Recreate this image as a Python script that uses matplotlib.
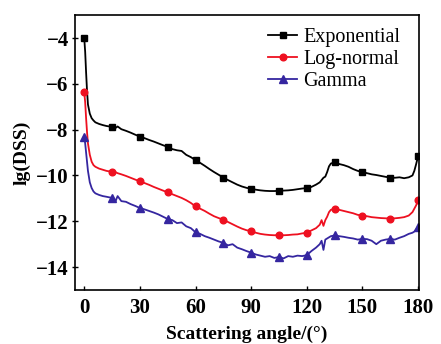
import numpy as np
import matplotlib
matplotlib.use("Agg")
import matplotlib.pyplot as plt

plt.rcParams['font.family'] = ['Liberation Serif', 'DejaVu Serif']

angle = [0, 0.5, 1, 1.5, 2, 3, 4, 5, 6, 8, 10, 12, 15, 17, 18, 20, 22.5, 25, 27.5,
         30, 32.5, 35, 37.5, 40, 42.5, 45, 47.5, 50, 52.5, 55, 57.5, 60, 62.5, 65,
         67.5, 70, 72.5, 75, 77.5, 80, 82.5, 85, 87.5, 90, 92.5, 95, 97.5, 100,
         102.5, 105, 107.5, 110, 112.5, 115, 117.5, 120, 122.5, 125, 127, 128, 129,
         130, 131, 132, 133, 135, 137.5, 140, 142.5, 145, 147.5, 150, 152.5, 155,
         157.5, 160, 162.5, 165, 167.5, 170, 172.5, 175, 177, 178, 179, 180]

exponential = [-4.0, -4.6, -5.5, -6.3, -6.9, -7.3, -7.5, -7.6, -7.68, -7.75, -7.8, -7.84,
               -7.88, -7.92, -7.86, -7.98, -8.05, -8.13, -8.22, -8.3, -8.37, -8.45,
               -8.52, -8.6, -8.68, -8.75, -8.85, -8.9, -8.93, -9.1, -9.2, -9.33,
               -9.45, -9.58, -9.72, -9.85, -9.97, -10.09, -10.2, -10.3, -10.4, -10.48,
               -10.54, -10.58, -10.62, -10.65, -10.67, -10.68, -10.68, -10.67, -10.66,
               -10.65, -10.63, -10.6, -10.57, -10.55, -10.5, -10.4, -10.3, -10.2,
               -10.1, -10.05, -9.85, -9.6, -9.48, -9.42, -9.5, -9.55, -9.62, -9.72,
               -9.8, -9.85, -9.9, -9.95, -9.98, -10.02, -10.06, -10.09, -10.1, -10.08,
               -10.12, -10.08, -10.0, -9.8, -9.5, -9.17]

lognormal = [-6.37, -6.8, -7.5, -8.1, -8.6, -9.1, -9.4, -9.55, -9.62, -9.7, -9.75, -9.8,
             -9.84, -9.86, -9.9, -9.95, -10.02, -10.1, -10.18, -10.26, -10.33, -10.41,
             -10.5, -10.58, -10.66, -10.74, -10.82, -10.9, -10.98, -11.08, -11.2,
             -11.35, -11.45, -11.55, -11.67, -11.78, -11.86, -11.93, -12.03, -12.13,
             -12.23, -12.32, -12.39, -12.43, -12.5, -12.55, -12.58, -12.6, -12.61,
             -12.6, -12.61, -12.6, -12.58, -12.57, -12.53, -12.5, -12.4, -12.3,
             -12.15, -11.95, -12.2, -11.95, -11.8, -11.6, -11.5, -11.45, -11.5, -11.55,
             -11.6, -11.65, -11.72, -11.75, -11.78, -11.82, -11.84, -11.86, -11.87,
             -11.88, -11.87, -11.85, -11.82, -11.75, -11.6, -11.45, -11.3, -11.09]

gamma = [-8.3, -8.6, -9.0, -9.4, -9.8, -10.3, -10.55, -10.7, -10.78, -10.85, -10.9,
         -10.93, -10.98, -11.1, -10.9, -11.12, -11.15, -11.25, -11.33, -11.42, -11.48,
         -11.55, -11.62, -11.7, -11.8, -11.9, -11.95, -12.08, -12.05, -12.22, -12.3,
         -12.48, -12.55, -12.65, -12.72, -12.8, -12.88, -12.94, -13.05, -13.0, -13.15,
         -13.22, -13.3, -13.37, -13.45, -13.5, -13.55, -13.52, -13.6, -13.56, -13.62,
         -13.52, -13.55, -13.5, -13.52, -13.48, -13.3, -13.15, -13.0, -12.85, -13.25,
         -12.8, -12.75, -12.7, -12.65, -12.62, -12.65, -12.68, -12.72, -12.75, -12.8,
         -12.77, -12.78, -12.85, -13.0, -12.85, -12.8, -12.77, -12.8, -12.72, -12.65,
         -12.55, -12.5, -12.45, -12.35, -12.25]

marker_angles = [0, 15, 30, 45, 60, 75, 90, 105, 120, 135, 150, 165, 180]
series_names = ["Exponential", "Log-normal", "Gamma"]
xticks = [0, 30, 60, 90, 120, 150, 180]
yticks = [-4, -6, -8, -10, -12, -14]

x = np.array(angle)
mark_idx = [int(np.where(x == a)[0][0]) for a in marker_angles]

fig = plt.figure(figsize=(4.41, 3.44), dpi=100)
ax = fig.add_axes([0.170, 0.157, 0.780, 0.799])

styles = [dict(color='black', marker='s', ms=4.8),
          dict(color='#ee1020', marker='o', ms=4.8),
          dict(color='#3526a0', marker='^', ms=5.8)]
for ys, name, st in zip([exponential, lognormal, gamma], series_names, styles):
    ax.plot(x, ys, color=st['color'], marker=st['marker'], markersize=st['ms'],
            markevery=mark_idx, lw=1.3, label=name)

ax.set_xlim(-5, 180.5)
ax.set_ylim(-15, -3)
ax.set_xticks(xticks)
ax.set_yticks(yticks)
ax.set_yticklabels(["\u2212%d" % abs(v) for v in yticks])
ax.tick_params(axis='x', direction='in', length=3, width=1, labelsize=15, pad=6)
ax.tick_params(axis='y', direction='inout', length=5, width=1, labelsize=15, pad=2)
for lab in ax.get_xticklabels() + ax.get_yticklabels():
    lab.set_fontweight('bold')
for sp in ax.spines.values():
    sp.set_linewidth(1.2)

ax.set_xlabel("Scattering angle/(°)", fontsize=14, fontweight='bold', labelpad=5)
ax.set_ylabel("lg(DSS)", fontsize=14, fontweight='bold', labelpad=4)

leg = ax.legend(loc='upper left', frameon=False, fontsize=14.5, handlelength=1.45,
                handletextpad=0.3, labelspacing=0.15, borderaxespad=0, borderpad=0,
                bbox_to_anchor=(0.561, 0.955))

fig.savefig("out.png", dpi=100)
